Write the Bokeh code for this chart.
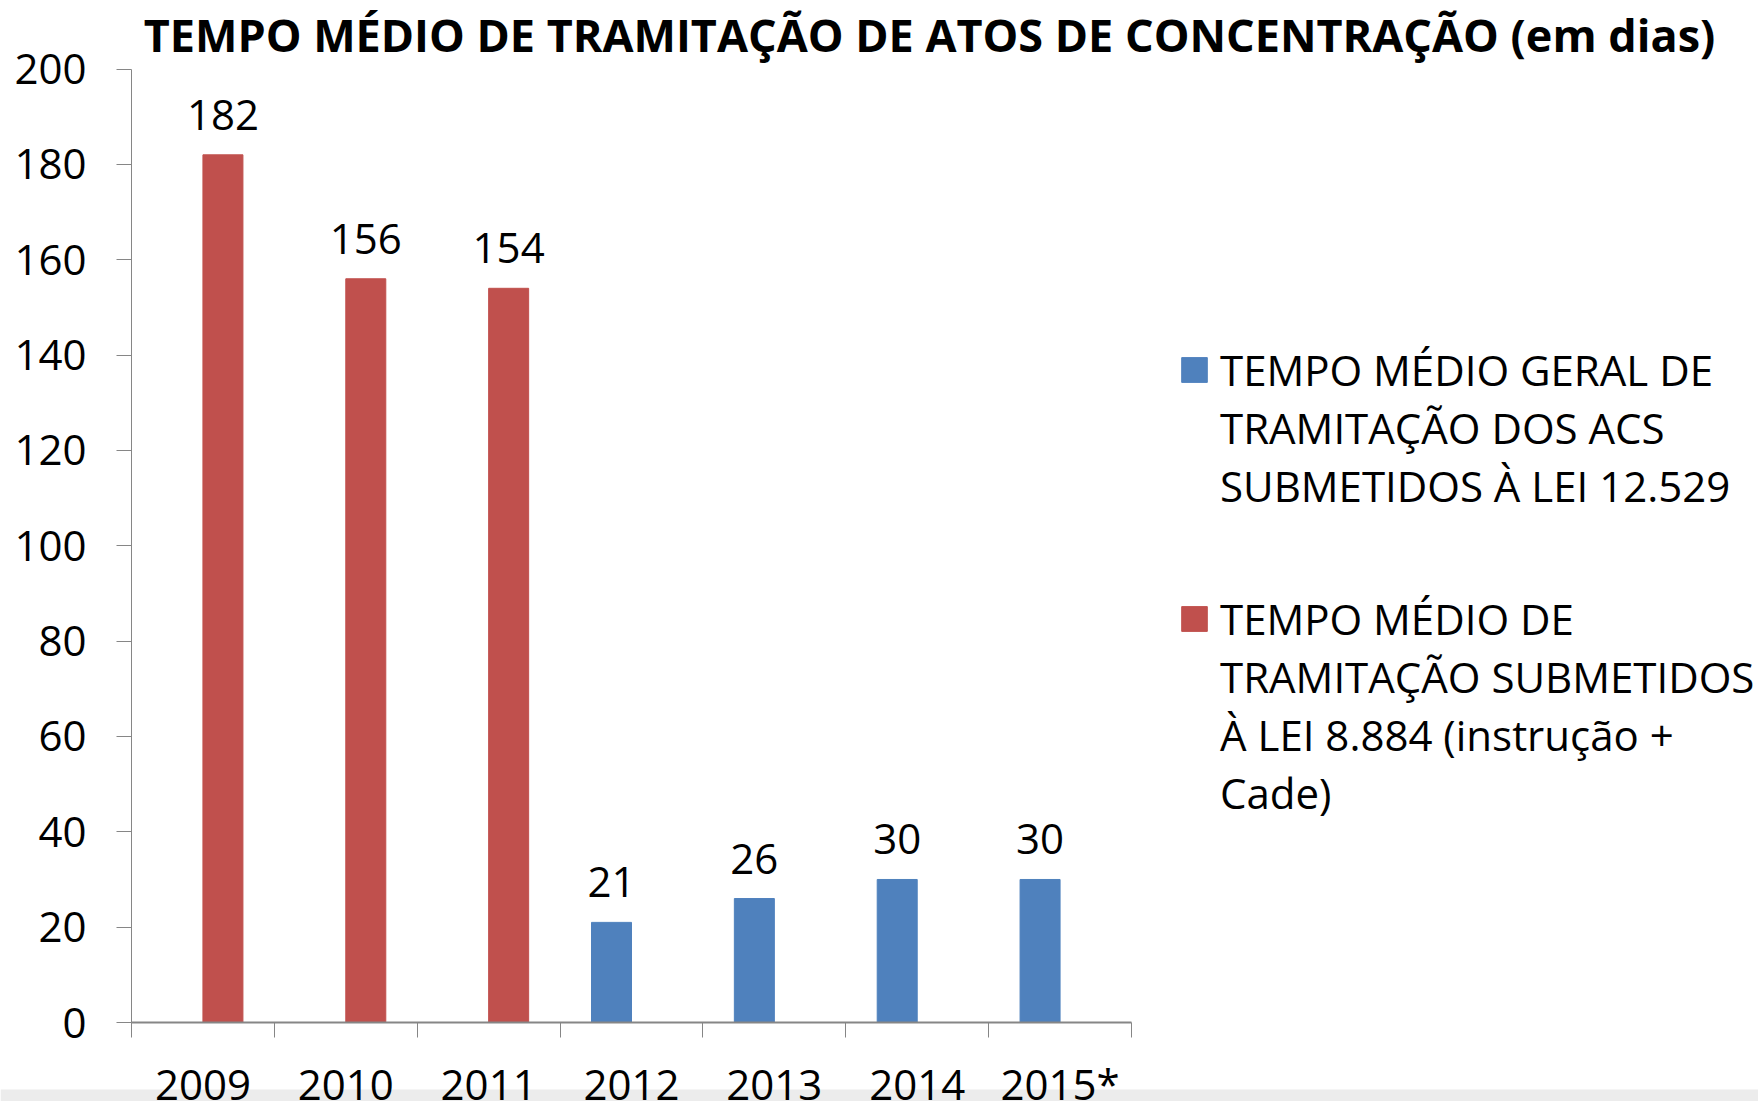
from bokeh.plotting import figure
from bokeh.models import (Range1d, LinearAxis, FixedTicker, LabelSet, Label, ColumnDataSource,
                          Legend, LegendItem, BoxAnnotation)
from bokeh.transform import dodge
from bokeh.core.properties import value
from bokeh.embed import file_html
from bokeh.resources import INLINE

# ---------------- data ----------------
categories = ["2009", "2010", "2011", "2012", "2013", "2014", "2015*"]
years_8884 = ["2009", "2010", "2011"]
values_8884 = [182, 156, 154]
years_12529 = ["2012", "2013", "2014", "2015*"]
values_12529 = [21, 26, 30, 30]
y_ticks = [0, 20, 40, 60, 80, 100, 120, 140, 160, 180, 200]
title_text = "TEMPO MÉDIO DE TRAMITAÇÃO DE ATOS DE CONCENTRAÇÃO (em dias)"
legend_12529 = ["TEMPO MÉDIO GERAL DE", "TRAMITAÇÃO DOS ACS", "SUBMETIDOS À LEI 12.529"]
legend_8884 = ["TEMPO MÉDIO DE", "TRAMITAÇÃO SUBMETIDOS", "À LEI 8.884 (instrução +", "Cade)"]

# ---------------- style / layout ----------------
FONT = "Open Sans"
BLUE = "#4F81BD"
RED = "#C0504D"
AXIS = "#868686"

W, H = 1758, 1101
X0_PX = 131            # canvas x of the first category boundary
X_UNIT_PX = 1000 / 7   # width of one category slot
Y0_PX = 1022           # canvas y of value 0
Y200_PX = 68.5         # canvas y of value 200
Y_UNIT_PX = (Y0_PX - Y200_PX) / 200

x_rng = Range1d(-X0_PX / X_UNIT_PX, (W - X0_PX) / X_UNIT_PX)
y_rng = Range1d(-(H - Y0_PX) / Y_UNIT_PX, 200 + Y200_PX / Y_UNIT_PX)

p = figure(width=W, height=H, x_range=x_rng, y_range=y_rng,
           output_backend="svg", toolbar_location=None,
           x_axis_location=None, y_axis_location=None,
           min_border_left=0, min_border_right=0, min_border_top=0, min_border_bottom=0)
p.outline_line_color = None
p.grid.visible = False

# grey strip along the bottom edge
p.add_layout(BoxAnnotation(top=-(1089 - Y0_PX) / Y_UNIT_PX, fill_color="#ececec",
                           fill_alpha=1, line_color=None, level="underlay"))

# positions of categories on the numeric x scale
pos = {c: i + 0.5 for i, c in enumerate(categories)}

# y axis
yax = LinearAxis(fixed_location=0, bounds=(0, 200),
                 ticker=FixedTicker(ticks=y_ticks),
                 axis_line_color=AXIS, major_tick_line_color=AXIS,
                 major_tick_in=0, major_tick_out=15, minor_tick_line_color=None,
                 major_label_standoff=30, major_label_text_font=FONT,
                 major_label_text_font_size="42px", major_label_text_color="black")
p.add_layout(yax, "left")

# x axis: baseline + boundary ticks
tick_axis = LinearAxis(fixed_location=0, bounds=(0, len(categories)),
                       ticker=FixedTicker(ticks=list(range(len(categories) + 1))),
                       major_tick_in=0, major_tick_out=15,
                       minor_tick_line_color=None,
                       axis_line_color=AXIS, axis_line_width=2,
                       major_tick_line_color=AXIS,
                       major_label_text_font_size="1px",
                       major_label_text_alpha=0,
                       major_label_standoff=0)
p.add_layout(tick_axis, "below")
# category labels
cat_axis = LinearAxis(fixed_location=0,
                      ticker=FixedTicker(ticks=[pos[c] for c in categories]),
                      major_label_overrides={pos[c]: c for c in categories},
                      axis_line_color=None, major_tick_line_color=None,
                      minor_tick_line_color=None,
                      major_tick_in=0, major_tick_out=0,
                      major_label_standoff=32,
                      major_label_text_font=FONT,
                      major_label_text_font_size="42px",
                      major_label_text_color="black")
p.add_layout(cat_axis, "below")

# bars
src_b = ColumnDataSource(dict(x=[pos[c] for c in years_12529], value=values_12529,
                              label=[str(v) for v in values_12529]))
src_r = ColumnDataSource(dict(x=[pos[c] for c in years_8884], value=values_8884,
                              label=[str(v) for v in values_8884]))
rb = p.vbar(x=dodge("x", -0.14), top="value", width=0.28, source=src_b,
            fill_color=BLUE, line_color=BLUE)
rr = p.vbar(x=dodge("x", 0.14), top="value", width=0.28, source=src_r,
            fill_color=RED, line_color=RED)
blank = p.vbar(x=[], top=[], width=0.28, fill_alpha=0, line_alpha=0)

# value labels
for src, off in ((src_b, -0.14), (src_r, 0.14)):
    p.add_layout(LabelSet(x=dodge("x", off), y="value", text="label",
                          source=src, text_align="center", text_baseline="alphabetic",
                          y_offset=25, text_font=value(FONT), text_font_size="42px",
                          text_color="black"))

# title
p.add_layout(Label(x=929, y=H - 34, x_units="screen", y_units="screen",
                   text=title_text, text_align="center", text_baseline="alphabetic",
                   text_font=FONT, text_font_style="bold", text_font_size="45px",
                   text_color="black"))

# legends (one per series, one item per text line)
LINE = 58.5
def make_legend(lines, renderer, first_center_y):
    items = [LegendItem(label=t, renderers=[renderer if i == 0 else blank])
             for i, t in enumerate(lines)]
    top = first_center_y - LINE / 2
    bottom = top + LINE * len(lines)
    lg = Legend(items=items, location=(1178, H - bottom),
                border_line_color=None, background_fill_alpha=0,
                padding=0, margin=0, spacing=0,
                glyph_width=32, glyph_height=31, label_standoff=10,
                label_height=int(LINE), label_text_font=FONT,
                label_text_font_size="42px", label_text_color="black",
                label_text_baseline="middle")
    p.add_layout(lg)

make_legend(legend_12529, rb, 368.5)
make_legend(legend_8884, rr, 616.5)

open("out.html", "w").write(file_html(p, INLINE))
